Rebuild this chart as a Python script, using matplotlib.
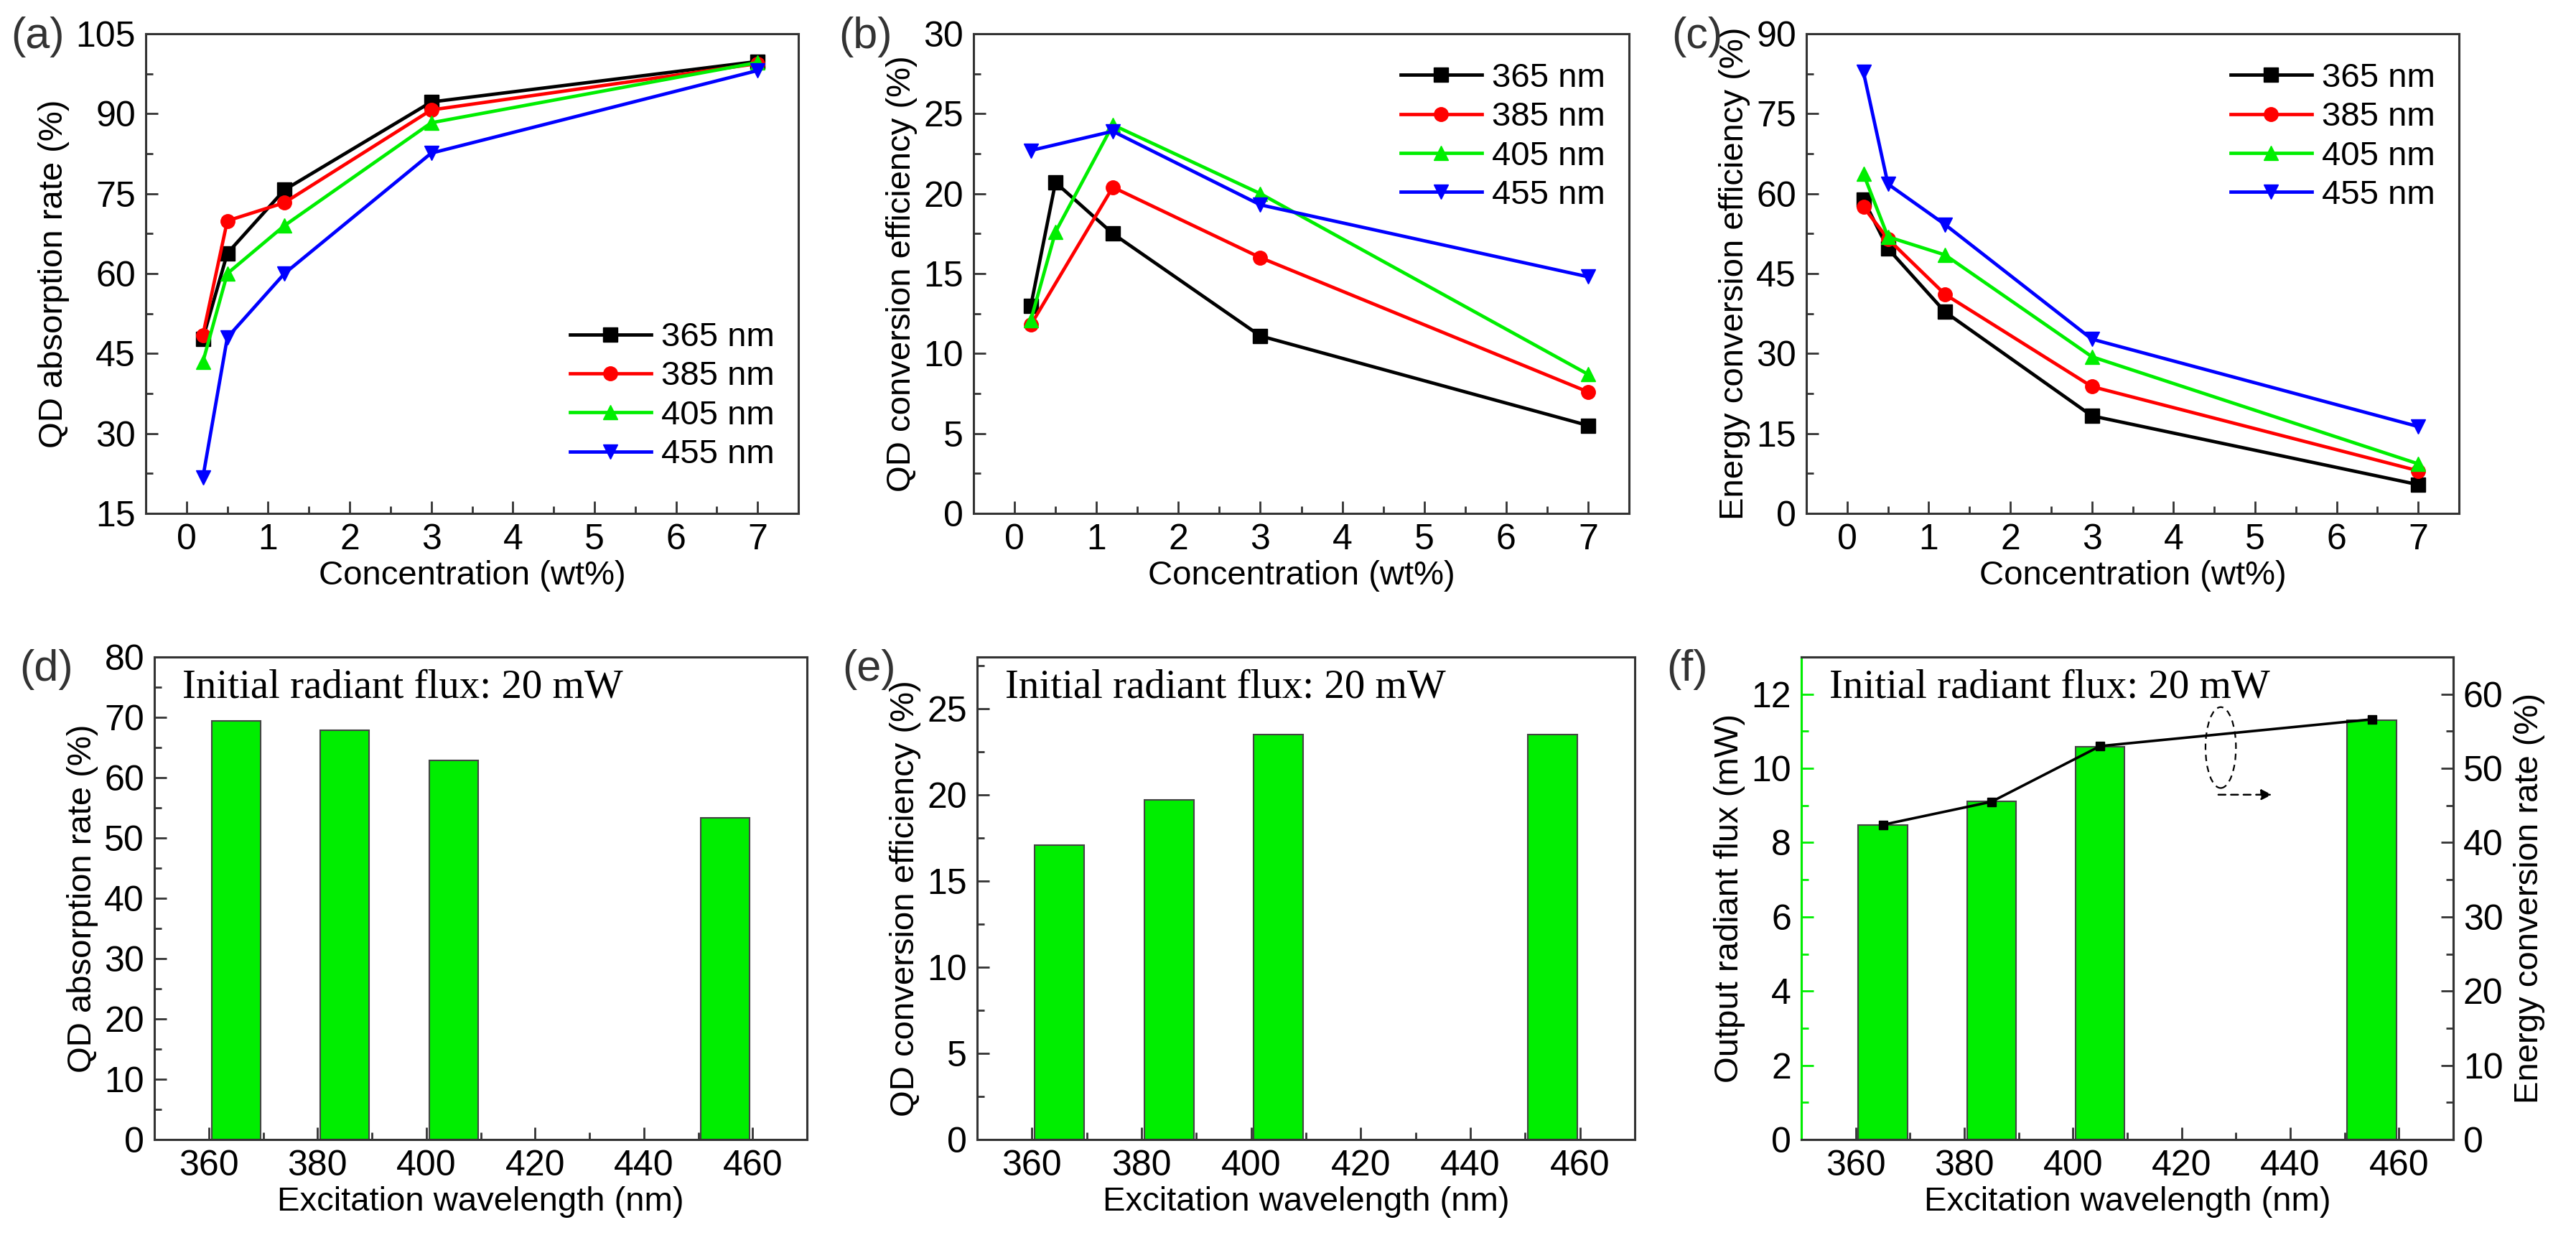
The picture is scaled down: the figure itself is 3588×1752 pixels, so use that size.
import matplotlib
matplotlib.use("Agg")
import matplotlib.pyplot as plt
from matplotlib.patches import Ellipse
from matplotlib.ticker import MultipleLocator

plt.rcParams['font.family'] = ['Liberation Sans', 'DejaVu Sans']

# ---------------- data ----------------
conc = [0.2, 0.5, 1.2, 3, 7]
conc_short = [0.2, 1.2, 3, 7]
labels = ['365 nm', '385 nm', '405 nm', '455 nm']

abs_365 = [47.8, 63.8, 75.7, 92.2, 99.8]
abs_385 = [48.4, 69.9, 73.3, 90.7, 99.4]
abs_405 = [43.4, 60.0, 69.0, 88.3, 99.6]
abs_455 = [21.7, 48.0, 60.0, 82.6, 98.1]

conv_365 = [13.0, 20.7, 17.5, 11.1, 5.5]
conv_385 = [11.8, 20.4, 16.0, 7.6]
conv_405 = [12.1, 17.6, 24.3, 20.0, 8.7]
conv_455 = [22.7, 23.9, 19.3, 14.8]

eff_365 = [58.9, 49.7, 37.8, 18.3, 5.4]
eff_385 = [57.5, 51.5, 41.1, 23.8, 8.0]
eff_405 = [63.7, 51.9, 48.5, 29.4, 9.3]
eff_455 = [82.8, 61.8, 54.2, 32.7, 16.3]

wl = [365, 385, 405, 455]
abs_bar = [69.4, 67.8, 62.8, 53.3]
conv_bar = [17.1, 19.7, 23.5, 23.5]
flux_bar = [8.48, 9.12, 10.59, 11.3]
ecr_line = [42.4, 45.5, 53.0, 56.6]

colors = ['black', '#FF0000', '#00EE00', '#0000FF']
markers = ['s', 'o', '^', 'v']

W, H = 3588, 1752
DPI = 100
fig = plt.figure(figsize=(W / DPI, H / DPI), dpi=DPI)

def add_ax(l, r, t, b):
    return fig.add_axes([l / W, 1 - b / H, (r - l) / W, (b - t) / H])

TICK_FS = 36
LAB_FS = 34
LEG_FS = 34
SPINE_C = '#333333'

def style(ax):
    for s in ax.spines.values():
        s.set_linewidth(2.2)
        s.set_color(SPINE_C)
    ax.tick_params(which='both', direction='in', top=False, right=False,
                   labelsize=TICK_FS, width=2, color=SPINE_C, pad=10)
    ax.tick_params(which='major', length=12)
    ax.tick_params(which='minor', length=7)

def panel_label(ax_left, y, txt):
    fig.text((ax_left - 188) / W, 1 - y / H, txt, fontsize=44, color='#333333',
             va='center', ha='left')

# top row line plots
top_t, top_b = 47, 715
tops = [(203, 1112), (1356, 2269), (2516, 3425)]
series = [
    ([conc, conc, conc, conc], [abs_365, abs_385, abs_405, abs_455], (15, 105), 15,
     'QD absorption rate (%)'),
    ([conc, conc_short, conc, conc_short], [conv_365, conv_385, conv_405, conv_455], (0, 30), 5,
     'QD conversion efficiency (%)'),
    ([conc, conc, conc, conc], [eff_365, eff_385, eff_405, eff_455], (0, 90), 15,
     'Energy conversion efficiency (%)'),
]
legend_pos = [('lower right', (1.0, 0.04)), ('upper right', (1.0, 0.99)), ('upper right', (1.0, 0.99))]
plab = ['(a)', '(b)', '(c)']
for i, ((l, r), (xs, ys, ylim, ystep, ylab)) in enumerate(zip(tops, series)):
    ax = add_ax(l, r, top_t, top_b)
    for x, y, c, m, lb in zip(xs, ys, colors, markers, labels):
        ax.plot(x, y, color=c, marker=m, markersize=14, linewidth=3.4, label=lb,
                markeredgecolor=c)
    ax.set_xlim(-0.5, 7.5)
    ax.set_ylim(*ylim)
    ax.xaxis.set_major_locator(MultipleLocator(1))
    ax.xaxis.set_minor_locator(MultipleLocator(0.5))
    ax.yaxis.set_major_locator(MultipleLocator(ystep))
    ax.yaxis.set_minor_locator(MultipleLocator(ystep / 2))
    style(ax)
    ax.set_xlabel('Concentration (wt%)', fontsize=LAB_FS, labelpad=4)
    ax.set_ylabel(ylab, fontsize=LAB_FS, labelpad=6)
    loc, anchor = legend_pos[i]
    ax.legend(loc=loc, bbox_to_anchor=anchor, frameon=False, fontsize=LEG_FS,
              handlelength=2.4, labelspacing=0.22, handletextpad=0.3, borderaxespad=0.3)
    panel_label(l, 52, plab[i])

# bottom row bar plots
bot_t, bot_b = 915, 1587
bots = [(215, 1124), (1361, 2277), (2509, 3417)]
BAR_C = '#00EE00'
TXT = 'Initial radiant flux: 20 mW'

def bar_common(ax, ylab):
    ax.set_xlim(350, 470)
    ax.xaxis.set_major_locator(MultipleLocator(20))
    ax.xaxis.set_minor_locator(MultipleLocator(10))
    style(ax)
    ax.set_xlabel('Excitation wavelength (nm)', fontsize=LAB_FS, labelpad=4)
    ax.set_ylabel(ylab, fontsize=LAB_FS, labelpad=6)
    ax.text(0.043, 0.975, TXT, transform=ax.transAxes, fontsize=41,
            family=['Liberation Serif', 'DejaVu Serif'], va='top', ha='left')

ax = add_ax(*bots[0], bot_t, bot_b)
ax.bar(wl, abs_bar, width=9, color=BAR_C, edgecolor='#444444', linewidth=1.5)
ax.set_ylim(0, 80)
ax.yaxis.set_major_locator(MultipleLocator(10))
ax.yaxis.set_minor_locator(MultipleLocator(5))
bar_common(ax, 'QD absorption rate (%)')
panel_label(bots[0][0], 932, '(d)')

ax = add_ax(*bots[1], bot_t, bot_b)
ax.bar(wl, conv_bar, width=9, color=BAR_C, edgecolor='#444444', linewidth=1.5)
ax.set_ylim(0, 28)
ax.yaxis.set_major_locator(MultipleLocator(5))
ax.yaxis.set_minor_locator(MultipleLocator(2.5))
bar_common(ax, 'QD conversion efficiency (%)')
panel_label(bots[1][0], 932, '(e)')

ax = add_ax(*bots[2], bot_t, bot_b)
ax.bar(wl, flux_bar, width=9, color=BAR_C, edgecolor='#444444', linewidth=1.5)
ax.set_ylim(0, 13)
ax.yaxis.set_major_locator(MultipleLocator(2))
ax.yaxis.set_minor_locator(MultipleLocator(1))
bar_common(ax, 'Output radiant flux (mW)')
ax.spines['left'].set_color('#00EE00')
ax.tick_params(axis='y', which='both', color='#00EE00')
ax.add_patch(Ellipse((427.2, 10.56), 5.6, 2.18, angle=0, fill=False,
                     linestyle=(0, (4, 3)), linewidth=1.6, edgecolor='black', zorder=5))
ax.annotate('', xy=(437.0, 9.29), xytext=(426.4, 9.29),
            arrowprops=dict(arrowstyle='-|>', linestyle=(0, (4, 3)), lw=1.8,
                            color='black', mutation_scale=22), zorder=5)
ax2 = ax.twinx()
ax2.plot(wl, ecr_line, color='black', marker='s', markersize=9, linewidth=2.6)
ax2.set_ylim(0, 65)
ax2.yaxis.set_major_locator(MultipleLocator(10))
ax2.yaxis.set_minor_locator(MultipleLocator(5))
for s in ax2.spines.values():
    s.set_linewidth(2.2)
    s.set_color(SPINE_C)
ax2.spines['left'].set_color('#00EE00')
ax2.tick_params(which='both', direction='in', labelsize=TICK_FS, width=2, color=SPINE_C, pad=10)
ax2.tick_params(which='major', length=12)
ax2.tick_params(which='minor', length=7)
ax2.set_ylabel('Energy conversion rate (%)', fontsize=LAB_FS, labelpad=10)
panel_label(bots[2][0], 932, '(f)')

fig.savefig('out.png', dpi=DPI, facecolor='white')
